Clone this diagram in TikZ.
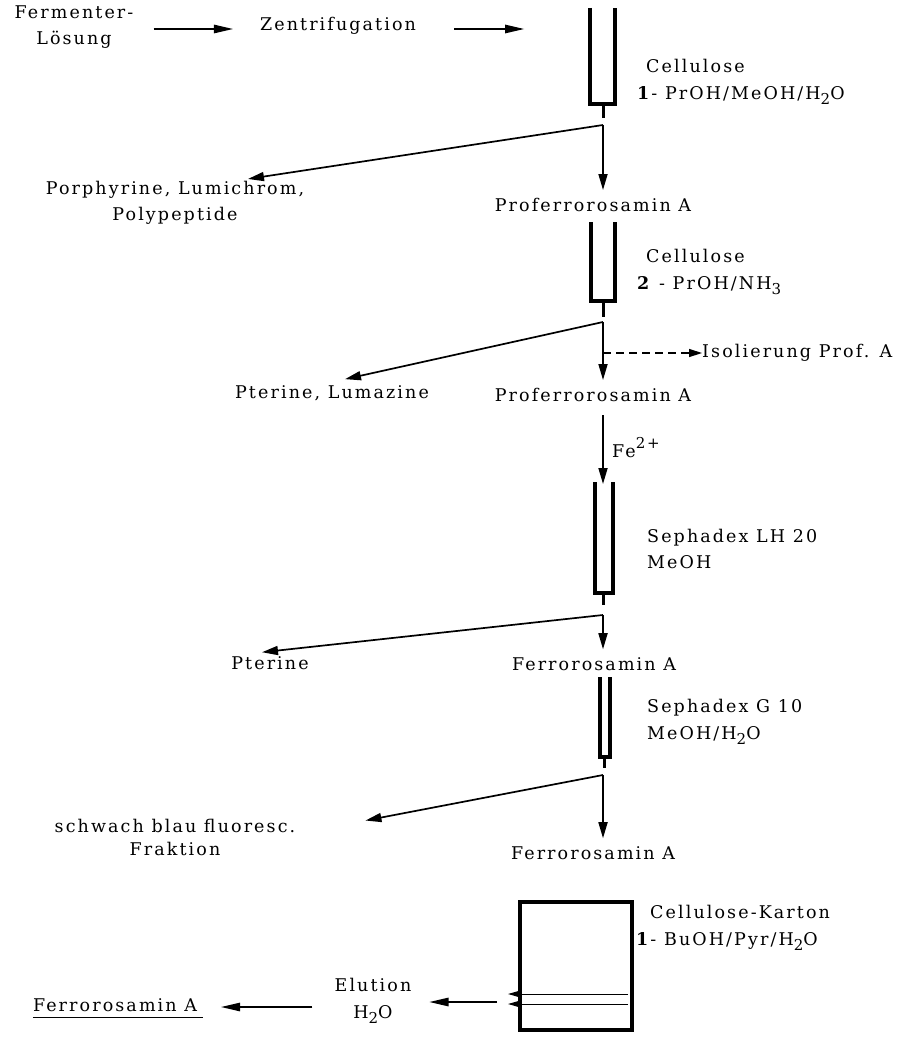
\documentclass[tikz,border=0pt]{standalone}
\usepackage{fontspec}
\setmainfont{DejaVu Serif}[LetterSpace=12]
\usetikzlibrary{arrows.meta,calc}
\newcommand{\sbt}[1]{\raisebox{-0.6ex}{\fontsize{15}{15}\selectfont #1}}
\newcommand{\spt}[1]{\raisebox{1.0ex}{\fontsize{15}{15}\selectfont #1}}
\begin{document}
\begin{tikzpicture}[x=1pt,y=-1pt,
  font=\fontsize{17.5}{26.5}\selectfont,
  lbl/.style={inner sep=0pt, align=center},
  lab/.style={inner sep=0pt, align=left, anchor=west},
  arr/.style={-{Triangle[length=16pt,width=9pt]}, line width=1.7pt},
  harr/.style={-{Triangle[length=20pt,width=8pt]}, line width=2.8pt},
  darr/.style={-{Triangle[length=13pt,width=8pt]}, line width=1.4pt, dash pattern=on 8pt off 5pt},
  wall/.style={line width=3.4pt, line join=miter},
  stem/.style={line width=3pt},
  band/.style={-{Triangle[length=11pt,width=6pt]}, line width=1pt}]
\useasboundingbox (0,0) rectangle (919,1038);

% ---- top row
\node[lbl] (ferm) at (74,27) {Fermenter-\\Lösung};
\node[lbl] (zent) at (338,26) {Zentrifugation};
\coordinate (c1in) at (525,29);
\draw[harr] ($(ferm.east)+(20,2)$) -- ($(zent.west)+(-26,3)$);
\draw[harr] ($(zent.east)+(38,3)$) -- (c1in);

% ---- column 1
\draw[wall] (590,8) -- (590,104) -- (615,104) -- (615,8);
\draw[stem] (603,104) -- (603,118);
\node[lab] (cel1) at (637,82) {\hspace{9pt}Cellulose\\\textbf{1}- PrOH/MeOH/H\sbt{2}O};
\coordinate (s1) at (603,125);
\node[lbl] (porph) at (175,203) {Porphyrine, Lumichrom,\\Polypeptide};
\node[lbl] (pro1) at (593,205) {Proferrorosamin A};
\draw[arr] (s1) -- ($(porph.north)+(73,-2)$);
\draw[arr] (s1) -- ([yshift=8pt]s1 |- pro1.north);

% ---- column 2
\draw[wall] (591,222) -- (591,301) -- (615,301) -- (615,222);
\draw[stem] (603,301) -- (603,317);
\node[lab] (cel2) at (637,272) {\hspace{9pt}Cellulose\\\textbf{2} - PrOH/NH\sbt{3}};
\coordinate (s2) at (603,322);
\node[lbl] (pter1) at (332,393) {Pterine, Lumazine};
\node[lbl] (pro2) at (593,395) {Proferrorosamin A};
\node[lab] (isol) at (702,353) {Isolierung Prof. A};
\draw[arr] (s2) -- ($(pter1.north)+(13,-6)$);
\draw[arr] (s2) -- ([yshift=8pt]s2 |- pro2.north);
\draw[darr] (s2 |- isol) -- (isol.west);

% ---- Fe2+ and column 3
\coordinate (fe1) at (603,415);
\coordinate (c3top) at (603,484);
\draw[arr] (fe1) -- (c3top);
\node[lab] (fe) at (612,448) {Fe\spt{2+}};
\draw[wall] (595,482) -- (595,593) -- (613,593) -- (613,482);
\draw[stem] (603,593) -- (603,605);
\node[lab] (seph1) at (647,549) {Sephadex LH 20\\MeOH};
\coordinate (s3) at (603,615);
\node[lbl] (pter2) at (270,663) {Pterine};
\node[lbl] (fer1) at (594,664) {Ferrorosamin A};
\draw[arr] (s3) -- ($(pter2.north)+(-8,-4)$);
\draw[arr] (s3) -- ([yshift=8pt]s3 |- fer1.north);

% ---- column 4
\draw[wall] (600,677) -- (600,757) -- (610,757) -- (610,677);
\draw[stem] (604,757) -- (604,768);
\node[lab] (seph2) at (647,722) {Sephadex G 10\\MeOH/H\sbt{2}O};
\coordinate (s4) at (603,775);
\node[lbl, font=\fontsize{17.5}{23}\selectfont] (schw) at (175,837) {schwach blau fluoresc.\\Fraktion};
\node[lbl] (fer2) at (593,853) {Ferrorosamin A};
\draw[arr] (s4) -- ($(schw.north east)+(70,2)$);
\draw[arr] (s4) -- ([yshift=8pt]s4 |- fer2.north);

% ---- plate
\draw[line width=3.4pt] (520,902) rectangle (632,1030);
\coordinate (b1) at (628,994);
\coordinate (b2) at (628,1004);
\draw[band] (b1) -- (508,994);
\draw[band] (b2) -- (508,1004);
\node[lab] (kart) at (636,928) {\hspace{14pt}Cellulose-Karton\\\textbf{1}- BuOH/Pyr/H\sbt{2}O};
\node[lbl] (elu) at (373,1001) {Elution\\H\sbt{2}O};
\node[lbl] (fin) at (115,1005) {Ferrorosamin A};
\draw[harr] (497,1002) -- ($(elu.east)+(17,1)$);
\draw[harr] ($(elu.west)+(-22,6)$) -- ($(fin.east)+(23,2)$);
\draw[line width=1pt] ($(fin.south west)+(0,6)$) -- ($(fin.south east)+(6,6)$);
\end{tikzpicture}
\end{document}
